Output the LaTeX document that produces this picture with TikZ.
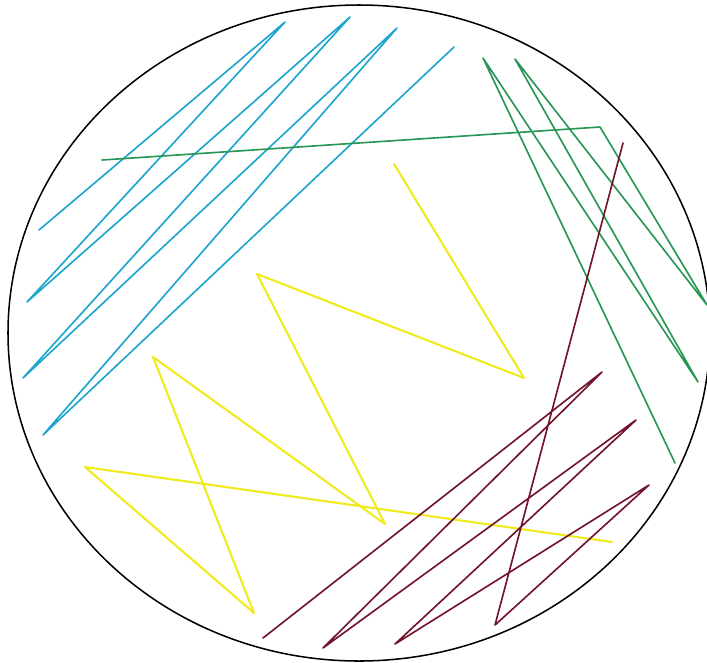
\documentclass[tikz,border=0pt]{standalone}
\usepackage{xcolor}
\usepackage{tikz}
\definecolor{streakblue}{RGB}{30, 165, 205}
\definecolor{streakgreen}{RGB}{40, 150, 85}
\definecolor{streakyellow}{RGB}{240, 235, 30}
\definecolor{streakred}{RGB}{115, 20, 45}

\begin{document}
\begin{tikzpicture}[
    x=0.3mm, y=-0.3mm,
    dish/.style={draw=black, line width=1.3pt},
    streak/.style={line width=1.4pt, line join=round, line cap=round}
]
\useasboundingbox (0,0) rectangle (707,662);

% plate
\draw[dish] (359,333) ellipse [x radius=351, y radius=328];

% first streak
\draw[streak, streakblue] (39,230) -- (285,22) -- (27,302) -- (350,17)
    -- (23,378) -- (397,28) -- (43,435) -- (454,47);

% second streak
\draw[streak, streakgreen] (102,160) -- (600,127) -- (707,305) -- (515,59)
    -- (698,382) -- (483,58) -- (675,463);

% third streak
\draw[streak, streakyellow, line width=1.8pt] (394,164) -- (524,378) -- (257,274)
    -- (385,524) -- (153,357) -- (254,613) -- (85,467) -- (612,542);

% fourth streak
\draw[streak, streakred] (263,638) -- (602,372) -- (323,648) -- (636,420)
    -- (395,644) -- (649,485) -- (495,625) -- (623,143);

\end{tikzpicture}
\end{document}
